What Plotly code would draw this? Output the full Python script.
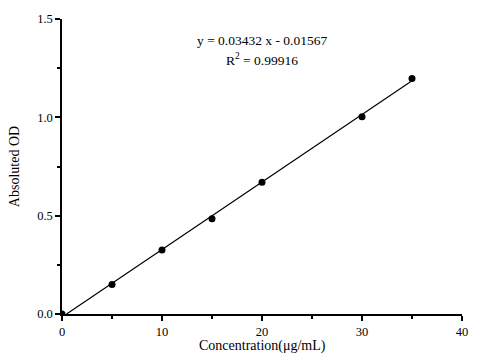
import plotly.graph_objects as go

conc = [0, 5, 10, 15, 20, 30, 35]
od = [0.0, 0.150, 0.326, 0.484, 0.670, 1.003, 1.198]
slope = 0.03432
intercept = -0.01567
fit_x = [-intercept / slope, 35]
fit_y = [slope * x + intercept for x in fit_x]

font = "Liberation Serif, Times New Roman, serif"

fig = go.Figure()
fig.add_trace(go.Scatter(x=fit_x, y=fit_y, mode="lines",
                         line=dict(color="black", width=1.2), showlegend=False))
fig.add_trace(go.Scatter(x=conc, y=od, mode="markers",
                         marker=dict(color="black", size=7), showlegend=False))

fig.add_annotation(x=0.5, xref="paper", y=1.39, yref="y",
                   text="y = 0.03432 x - 0.01567", showarrow=False,
                   font=dict(family=font, size=13.5, color="black"), xanchor="center")
fig.add_annotation(x=0.5, xref="paper", y=1.295, yref="y",
                   text="R<sup>2</sup> = 0.99916", showarrow=False,
                   font=dict(family=font, size=13.5, color="black"), xanchor="center")
fig.add_annotation(x=0.5, xref="paper", y=-0.107, yref="paper",
                   text="Concentration(μg/mL)", showarrow=False, yanchor="middle",
                   font=dict(family=font, size=14, color="black"), xanchor="center")

axis_common = dict(showline=True, linecolor="black", linewidth=1.5, ticks="outside",
                   ticklen=5, tickwidth=1.5, tickcolor="black", showgrid=False,
                   zeroline=False, mirror=False,
                   tickfont=dict(family=font, size=12.5, color="black"),
                   title_font=dict(family=font, size=14, color="black"))

fig.update_xaxes(range=[0, 40], tickvals=[0, 10, 20, 30, 40],
                 minor=dict(tickvals=[5, 15, 25, 35], ticklen=3, tickcolor="black",
                            tickwidth=1.5, ticks="outside", showgrid=False),
                 **axis_common)
fig.update_yaxes(range=[0, 1.5], tickvals=[0, 0.5, 1.0, 1.5], tickformat=".1f",
                 minor=dict(tickvals=[0.25, 0.75, 1.25], ticklen=3, tickcolor="black",
                            tickwidth=1.5, ticks="outside", showgrid=False),
                 title_text="Absoluted OD", title_standoff=14, **axis_common)

fig.update_layout(width=480, height=360, plot_bgcolor="white", paper_bgcolor="white",
                  margin=dict(l=62, r=12, t=16, b=46))
fig.write_html("out.html", config={"displayModeBar": False},
               post_script="document.body.style.margin='0';")
